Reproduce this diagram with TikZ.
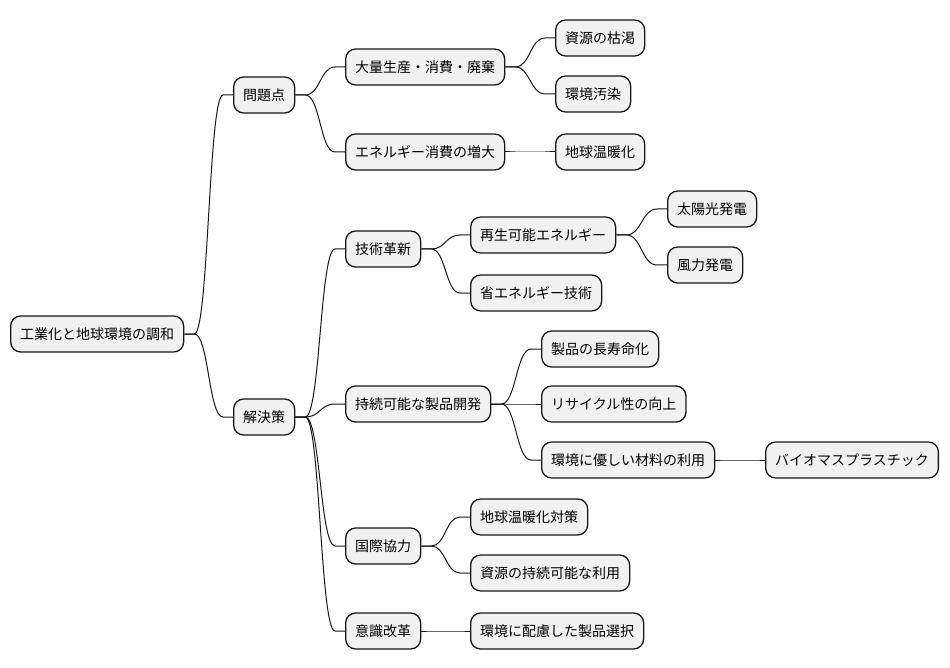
\documentclass[tikz,border=0pt]{standalone}
\usepackage{fontspec}
\setmainfont{Noto Sans CJK JP}
\usetikzlibrary{calc}
\definecolor{boxfill}{HTML}{F1F1F1}
\definecolor{boxline}{HTML}{181818}
\tikzset{
  mmbox/.style={draw=boxline, fill=boxfill, line width=1.3pt, rounded corners=10pt,
    minimum height=36pt, inner xsep=9.5pt, inner ysep=0pt, anchor=west,
    font=\fontsize{14pt}{17pt}\selectfont, text=black},
  mmline/.style={draw=boxline, line width=1pt}
}
\newcommand{\mmconn}[2]{%
  \draw[mmline] let \p1=(#1.east), \p2=(#2.west) in
    (\p1) -- (\x1+10pt,\y1) .. controls ({(\x1+\x2)/2},\y1) and ({(\x1+\x2)/2},\y2) .. (\x2-10pt,\y2) -- (\p2);}
\begin{document}
\begin{tikzpicture}[x=1pt,y=-1pt]
\fill[white] (0,0) rectangle (950,668);
\useasboundingbox (0,0) rectangle (950,668);
\node[mmbox] (root) at (10,334) {工業化と地球環境の調和};
\node[mmbox] (mon) at (233,95) {問題点};
\node[mmbox] (kai) at (233,417) {解決策};
\node[mmbox] (tai) at (345,67) {大量生産・消費・廃棄};
\node[mmbox] (ene) at (345,152) {エネルギー消費の増大};
\node[mmbox] (shi) at (555,38) {資源の枯渇};
\node[mmbox] (kan) at (555,94) {環境汚染};
\node[mmbox] (chi) at (555,152) {地球温暖化};
\node[mmbox] (gij) at (345,249) {技術革新};
\node[mmbox] (sai) at (470,235) {再生可能エネルギー};
\node[mmbox] (sho) at (470,293) {省エネルギー技術};
\node[mmbox] (tay) at (667,209) {太陽光発電};
\node[mmbox] (fuu) at (667,265) {風力発電};
\node[mmbox] (jiz) at (345,404) {持続可能な製品開発};
\node[mmbox] (sei) at (541,349) {製品の長寿命化};
\node[mmbox] (ris) at (541,404) {リサイクル性の向上};
\node[mmbox] (yas) at (541,460) {環境に優しい材料の利用};
\node[mmbox] (bio) at (765,460) {バイオマスプラスチック};
\node[mmbox] (kok) at (345,546) {国際協力};
\node[mmbox] (tis) at (470,517) {地球温暖化対策};
\node[mmbox] (sij) at (470,573) {資源の持続可能な利用};
\node[mmbox] (ish) at (345,631) {意識改革};
\node[mmbox] (hai) at (470,631) {環境に配慮した製品選択};
\mmconn{root}{mon}
\mmconn{root}{kai}
\mmconn{mon}{tai}
\mmconn{mon}{ene}
\mmconn{tai}{shi}
\mmconn{tai}{kan}
\mmconn{ene}{chi}
\mmconn{kai}{gij}
\mmconn{kai}{jiz}
\mmconn{kai}{kok}
\mmconn{kai}{ish}
\mmconn{gij}{sai}
\mmconn{gij}{sho}
\mmconn{sai}{tay}
\mmconn{sai}{fuu}
\mmconn{jiz}{sei}
\mmconn{jiz}{ris}
\mmconn{jiz}{yas}
\mmconn{yas}{bio}
\mmconn{kok}{tis}
\mmconn{kok}{sij}
\mmconn{ish}{hai}
\end{tikzpicture}
\end{document}
